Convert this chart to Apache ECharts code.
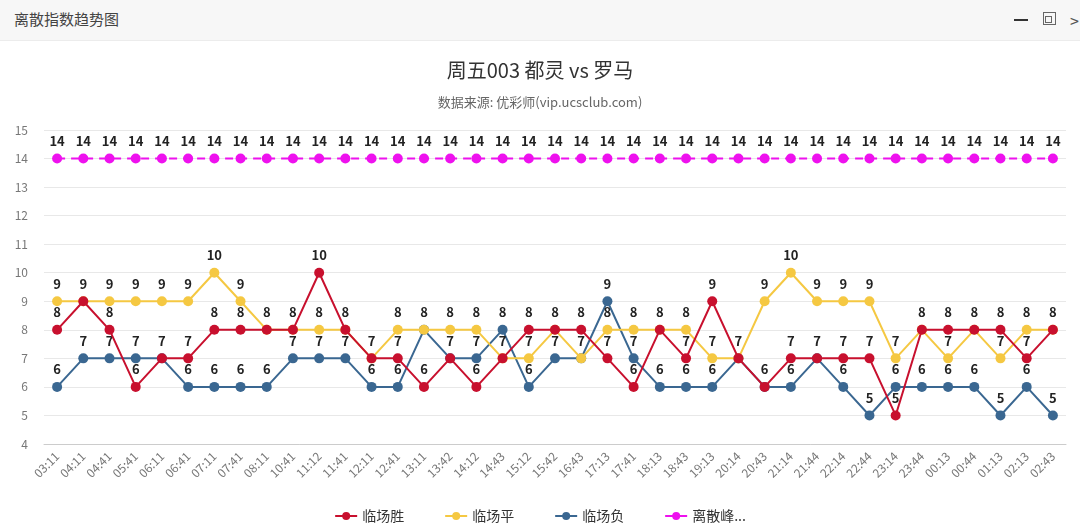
<!DOCTYPE html>
<html>
<head>
<meta charset="utf-8">
<script src="https://cdn.jsdelivr.net/npm/echarts@6/dist/echarts.min.js"></script>
<style>
html,body{margin:0;padding:0;background:#fff;}
#wrap{position:relative;width:1080px;height:530px;overflow:hidden;}
#chart{position:absolute;left:0;top:0;width:1080px;height:530px;}
#hdr{position:absolute;left:0;top:0;width:1080px;height:40px;background:#f7f7f7;border-bottom:1px solid #ececec;z-index:2;font-family:"Noto Sans CJK SC","Noto Sans",sans-serif;}
#hdr .t{position:absolute;left:14px;top:8px;font-size:15px;color:#444;}
#hdr .min{position:absolute;left:1014px;top:19px;width:14px;height:2px;background:#333;}
#hdr .max{position:absolute;left:1043px;top:12px;width:13px;height:13px;border:1px solid #666;box-sizing:border-box;}
#hdr .max:after{content:"";position:absolute;left:1px;bottom:1px;width:5px;height:5px;border:1px solid #666;}
#hdr .x{position:absolute;left:1070px;top:8px;font-size:16px;color:#555;}
</style>
</head>
<body>
<div id="wrap">
<div id="chart"></div>
<div id="hdr"><span class="t">离散指数趋势图</span><span class="min"></span><span class="max"></span><span class="x">&gt;</span></div>
</div>
<script>
var categories = ["03:11","04:11","04:41","05:41","06:11","06:41","07:11","07:41","08:11","10:41","11:12","11:41","12:11","12:41","13:11","13:42","14:12","14:43","15:12","15:42","16:43","17:13","17:41","18:13","18:43","19:13","20:14","20:43","21:14","21:44","22:14","22:44","23:14","23:44","00:13","00:44","01:13","02:13","02:43"];
var homeWin = [8,9,8,6,7,7,8,8,8,8,10,8,7,7,6,7,6,7,8,8,8,7,6,8,7,9,7,6,7,7,7,7,5,8,8,8,8,7,8];
var draw =    [9,9,9,9,9,9,10,9,8,8,8,8,7,8,8,8,8,7,7,8,7,8,8,8,8,7,7,9,10,9,9,9,7,8,7,8,7,8,8];
var awayWin = [6,7,7,7,7,6,6,6,6,7,7,7,6,6,8,7,7,8,6,7,7,9,7,6,6,6,7,6,6,7,6,5,6,6,6,6,5,6,5];
var peak =    [14,14,14,14,14,14,14,14,14,14,14,14,14,14,14,14,14,14,14,14,14,14,14,14,14,14,14,14,14,14,14,14,14,14,14,14,14,14,14];
var seriesNames = ["临场胜","临场平","临场负","离散峰值"];
var yTicks = {min:4, max:15, interval:1};

var font = '"Noto Sans CJK SC","Noto Sans",sans-serif';
var chart = echarts.init(document.getElementById('chart'));
function mk(name, data, color, dashed, z){
  return {
    name: name, type: 'line', data: data, z: z,
    symbol: 'circle', symbolSize: 10,
    itemStyle: {color: color},
    lineStyle: {color: color, width: 2, type: dashed ? [8,6] : 'solid'},
    label: {show: true, position: 'top', distance: 6, color: '#222', fontSize: 13, fontWeight: 'bold', fontFamily: font},
    labelLayout: {hideOverlap: true},
    emphasis: {disabled: true}
  };
}
chart.setOption({
  animation: false,
  backgroundColor: '#fff',
  title: {
    text: '周五003 都灵 vs 罗马',
    subtext: '数据来源: 优彩师(vip.ucsclub.com)',
    left: 'center', top: 55,
    itemGap: 16,
    textStyle: {fontSize: 20, fontWeight: 'normal', color: '#333', fontFamily: font},
    subtextStyle: {fontSize: 13, color: '#666', fontFamily: font}
  },
  legend: {
    bottom: 2, left: 'center', itemGap: 40, itemWidth: 22, itemHeight: 10,
    data: seriesNames,
    formatter: function(n){ return n.length > 3 ? n.slice(0,3) + '...' : n; },
    textStyle: {fontSize: 14, color: '#333', fontFamily: font}
  },
  grid: {left: 44, right: 14, top: 130, bottom: 86, containLabel: false},
  xAxis: {
    type: 'category', data: categories, boundaryGap: true,
    axisLine: {lineStyle: {color: '#ccc'}},
    axisTick: {lineStyle: {color: '#ccc'}},
    axisLabel: {rotate: 45, color: '#777', fontSize: 12, fontFamily: font, interval: 0, margin: 10}
  },
  yAxis: {
    type: 'value', min: yTicks.min, max: yTicks.max, interval: yTicks.interval,
    axisLine: {show: false}, axisTick: {show: false},
    axisLabel: {color: '#777', fontSize: 12, fontFamily: font, margin: 16},
    splitLine: {lineStyle: {color: '#e8e8e8'}}
  },
  series: [
    mk(seriesNames[0], homeWin, '#c8102e', false, 4),
    mk(seriesNames[1], draw, '#f5c842', false, 3),
    mk(seriesNames[2], awayWin, '#3a6791', false, 2),
    mk(seriesNames[3], peak, '#ee11ee', true, 1)
  ]
});
</script>
</body>
</html>
